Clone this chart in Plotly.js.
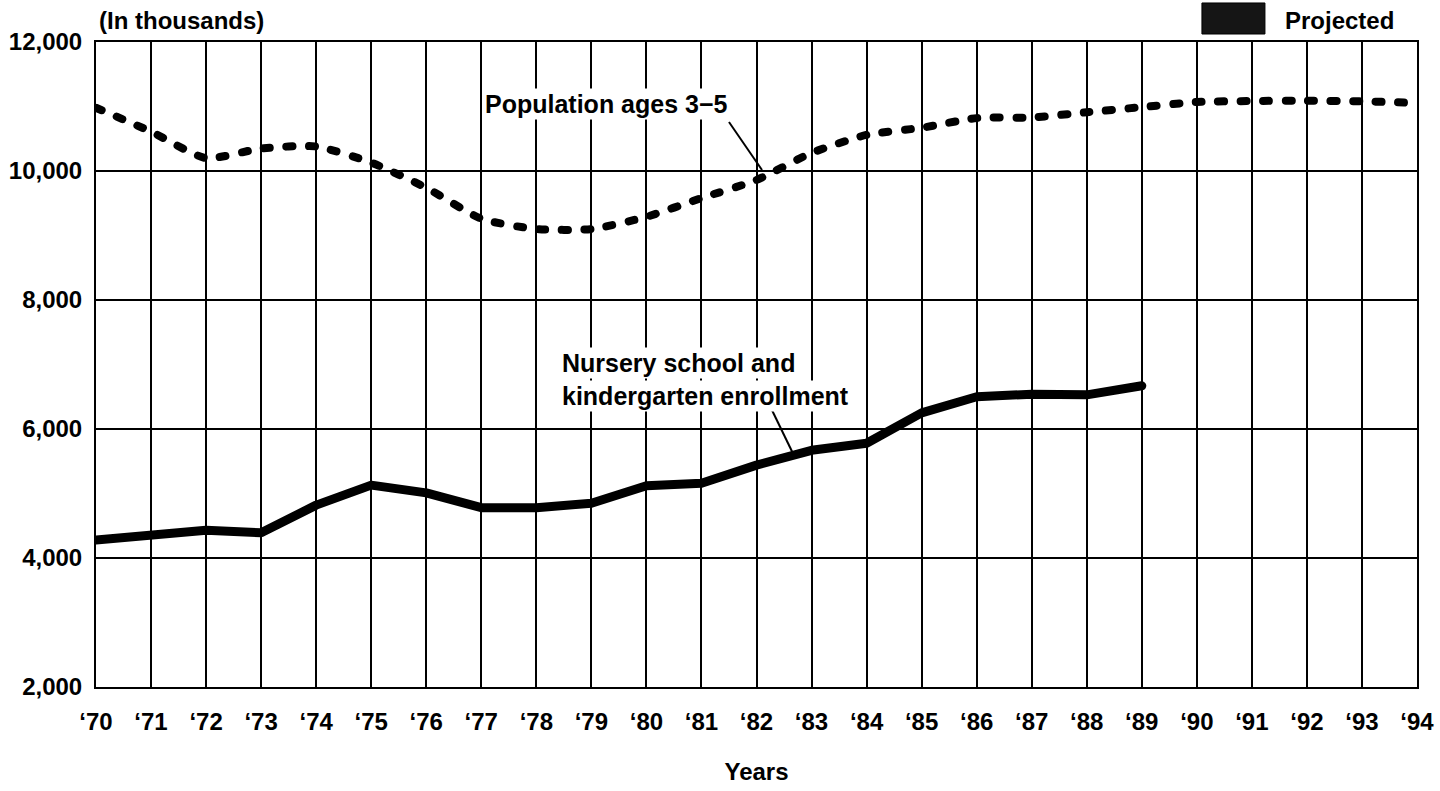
<!DOCTYPE html>
<html>
<head>
<meta charset="utf-8">
<script src="https://cdn.plot.ly/plotly-3.0.1.min.js"></script>
<style>
  html, body { margin: 0; padding: 0; background: #fff; }
  #chart { width: 1440px; height: 791px; }
  .scatterlayer .js-line { stroke-linecap: round !important; stroke-linejoin: round !important; }
</style>
</head>
<body>
<div id="chart"></div>
<script>
// ---- data (in thousands) ----
const years = [1970,1971,1972,1973,1974,1975,1976,1977,1978,1979,1980,1981,1982,1983,1984,1985,1986,1987,1988,1989,1990,1991,1992,1993,1994];
const population = [10980,10610,10200,10350,10380,10130,9740,9260,9100,9100,9290,9580,9860,10280,10560,10670,10820,10830,10910,10990,11070,11085,11090,11080,11055];
const enrollYears = [1970,1971,1972,1973,1974,1975,1976,1977,1978,1979,1980,1981,1982,1983,1984,1985,1986,1987,1988,1989];
const enrollment = [4280,4340,4430,4390,4820,5130,5010,4780,4780,4850,5120,5160,5440,5670,5780,6250,6500,6540,6530,6670];
const xTickLabels = years.map(y => '\u2018' + String(y).slice(2));
const yTickVals = [2000,4000,6000,8000,10000,12000];
const yTickLabels = ['2,000','4,000','6,000','8,000','10,000','12,000'];

const FONT = 'Liberation Sans, Arial, Helvetica, sans-serif';
const baseFont = { family: FONT, size: 24, color: '#000', weight: 'bold' };
const labelFont = { family: FONT, size: 25, color: '#000', weight: 'bold' };

const traces = [
  {
    x: years, y: population, type: 'scatter', mode: 'lines',
    name: 'Population ages 3\u22125',
    line: { color: '#000', width: 8, dash: '6px,16.5px', shape: 'spline', smoothing: 0.6 },
    hoverinfo: 'x+y'
  },
  {
    x: enrollYears, y: enrollment, type: 'scatter', mode: 'lines',
    name: 'Nursery school and kindergarten enrollment',
    line: { color: '#000', width: 9, shape: 'linear' },
    hoverinfo: 'x+y'
  }
];

const layout = {
  width: 1440, height: 791,
  margin: { l: 96, r: 23, t: 42, b: 104 },
  paper_bgcolor: '#fff', plot_bgcolor: '#fff',
  showlegend: false,
  font: baseFont,
  xaxis: {
    range: [1970, 1994],
    tickvals: years, ticktext: xTickLabels,
    showgrid: true, gridcolor: '#000', gridwidth: 2,
    showline: true, linecolor: '#000', linewidth: 2, mirror: true,
    zeroline: false, ticks: '', ticklabelstandoff: 12,
    tickfont: baseFont,
    title: { text: 'Years', font: baseFont, standoff: 29 },
    fixedrange: true
  },
  yaxis: {
    range: [2000, 12000],
    tickvals: yTickVals, ticktext: yTickLabels,
    showgrid: true, gridcolor: '#000', gridwidth: 2,
    showline: true, linecolor: '#000', linewidth: 2, mirror: true,
    zeroline: false, ticks: '', ticklabelstandoff: 7,
    tickfont: baseFont,
    fixedrange: true
  },
  shapes: [
    // leader line for population label
    { type: 'line', xref: 'x', yref: 'y', x0: 1981.50, y0: 10760, x1: 1982.10, y1: 10016,
      line: { color: '#000', width: 2 } },
    // leader line for enrollment label
    { type: 'line', xref: 'x', yref: 'y', x0: 1982.28, y0: 6295, x1: 1982.65, y1: 5643,
      line: { color: '#000', width: 2 } },
    // "Projected" key box
    { type: 'rect', xref: 'paper', yref: 'paper', x0: 0.8372, x1: 0.8849, y0: 1.0124, y1: 1.0605,
      fillcolor: '#151515', line: { color: '#000', width: 1 } }
  ],
  annotations: [
    { text: '(In thousands)', xref: 'paper', yref: 'paper', x: 0.0008, y: 1.0326,
      xanchor: 'left', yanchor: 'middle', showarrow: false, font: baseFont },
    { text: 'Projected', xref: 'paper', yref: 'paper', x: 0.8986, y: 1.0341,
      xanchor: 'left', yanchor: 'middle', showarrow: false, font: baseFont },
    { text: 'Population ages 3\u22125', xref: 'x', yref: 'y', x: 1977.03, y: 11040,
      xanchor: 'left', yanchor: 'middle', showarrow: false, bgcolor: '#fff', font: labelFont },
    { text: 'Nursery school and', xref: 'x', yref: 'y', x: 1978.43, y: 7023,
      xanchor: 'left', yanchor: 'middle', showarrow: false, bgcolor: '#fff', font: labelFont },
    { text: 'kindergarten enrollment', xref: 'x', yref: 'y', x: 1978.43, y: 6512,
      xanchor: 'left', yanchor: 'middle', showarrow: false, bgcolor: '#fff', font: labelFont }
  ]
};

Plotly.newPlot('chart', traces, layout, { displayModeBar: false, staticPlot: true });
</script>
</body>
</html>
